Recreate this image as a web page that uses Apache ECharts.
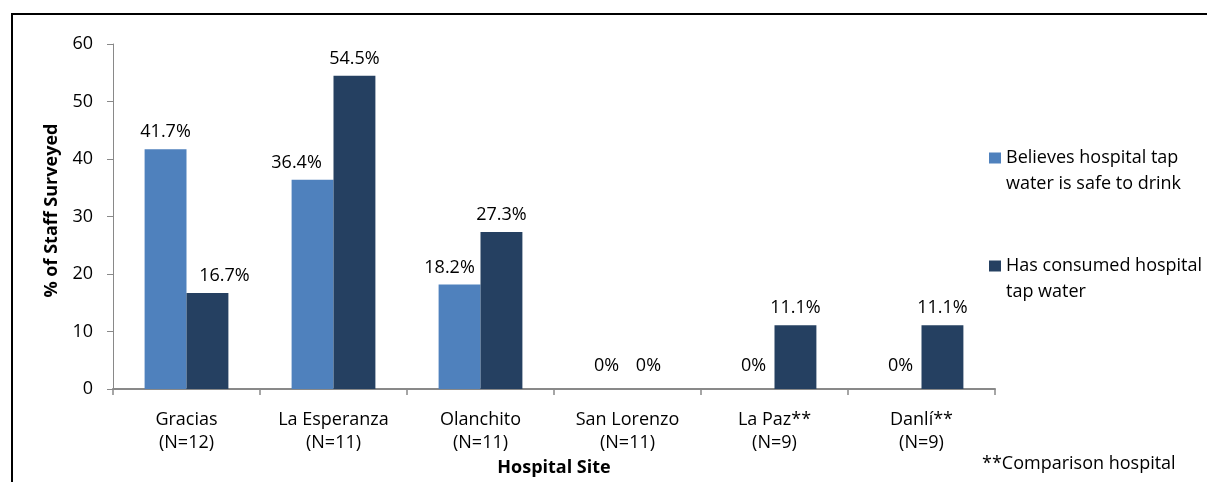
<!DOCTYPE html>
<html>
<head>
<meta charset="utf-8">
<script src="https://cdn.jsdelivr.net/npm/echarts@6/dist/echarts.min.js"></script>
<style>
  html, body { margin: 0; padding: 0; background: #fff; }
  #chart { width: 1207px; height: 482px; }
</style>
</head>
<body>
<div id="chart"></div>
<script>
// Hospital sites (two-line axis labels)
const categories = [
  'Gracias\n(N=12)',
  'La Esperanza\n(N=11)',
  'Olanchito\n(N=11)',
  'San Lorenzo\n(N=11)',
  'La Paz**\n(N=9)',
  'Danlí**\n(N=9)'
];

// Percent of staff surveyed
const believesSafe = [41.7, 36.4, 18.2, 0, 0, 0];
const hasConsumed = [16.7, 54.5, 27.3, 0, 11.1, 11.1];

const seriesNames = [
  'Believes hospital tap water is safe to drink',
  'Has consumed hospital tap water'
];
// leading blank line keeps the legend swatch level with the first text line
const legendLines = {
  'Believes hospital tap water is safe to drink': '\nBelieves hospital tap\nwater is safe to drink',
  'Has consumed hospital tap water': '\nHas consumed hospital\ntap water'
};

const yTicks = { min: 0, max: 60, interval: 10 };

const FONT = '"Open Sans", "Noto Sans", sans-serif';
const LIGHT = '#4F81BD';
const DARK = '#254061';

// labels nudged sideways so they clear the neighbouring taller bar
// key: seriesIndex + ':' + categoryIndex, value: horizontal offset in px
const labelNudge = { '1:0': 17, '0:1': -16, '0:2': -10 };

function withLabels(values, seriesIndex) {
  return values.map((v, i) => {
    const item = { value: v };
    const label = {};
    const dx = labelNudge[seriesIndex + ':' + i];
    if (dx) label.offset = [dx, 0];
    // zero-height bars get their label lifted a bit more off the baseline
    if (v === 0) label.distance = 14;
    if (Object.keys(label).length) item.label = label;
    return item;
  });
}

const barLabel = {
  show: true,
  position: 'top',
  distance: 8,
  color: '#000',
  fontFamily: FONT,
  fontSize: 18,
  formatter: p => p.value + '%'
};

const chart = echarts.init(document.getElementById('chart'), null, { renderer: 'canvas' });

chart.setOption({
  animation: false,
  backgroundColor: '#fff',
  grid: { left: 113, right: 212, top: 44, bottom: 91, containLabel: false },
  legend: {
    orient: 'vertical',
    left: 984,
    top: 114,
    itemWidth: 12,
    itemHeight: 11,
    itemGap: 30,
    icon: 'rect',
    data: seriesNames,
    formatter: name => legendLines[name],
    textStyle: {
      fontFamily: FONT,
      fontSize: 18,
      color: '#000',
      lineHeight: 26
    }
  },
  xAxis: {
    type: 'category',
    data: categories,
    name: 'Hospital Site',
    nameLocation: 'middle',
    nameGap: 68,
    nameTextStyle: { fontFamily: FONT, fontSize: 18, fontWeight: 'bold', color: '#000' },
    axisLine: { lineStyle: { color: '#898989', width: 2 } },
    axisTick: { show: true, length: 6, lineStyle: { color: '#898989', width: 1.5 } },
    axisLabel: {
      fontFamily: FONT, fontSize: 18, color: '#000',
      lineHeight: 23, margin: 19, interval: 0
    }
  },
  yAxis: {
    type: 'value',
    min: yTicks.min,
    max: yTicks.max,
    interval: yTicks.interval,
    name: '% of Staff Surveyed',
    nameLocation: 'middle',
    nameGap: 52,
    nameRotate: 90,
    nameTextStyle: {
      fontFamily: FONT, fontSize: 18, fontWeight: 'bold', color: '#000',
      padding: [0, 0, 0, 12]
    },
    axisLine: { show: true, lineStyle: { color: '#898989', width: 1 } },
    axisTick: { show: true, length: 6, lineStyle: { color: '#898989', width: 1 } },
    splitLine: { show: false },
    axisLabel: { fontFamily: FONT, fontSize: 18, color: '#000', margin: 20 }
  },
  series: [
    {
      name: seriesNames[0],
      type: 'bar',
      data: withLabels(believesSafe, 0),
      itemStyle: { color: LIGHT },
      barGap: '0%',
      barCategoryGap: '43%',
      label: barLabel
    },
    {
      name: seriesNames[1],
      type: 'bar',
      data: withLabels(hasConsumed, 1),
      itemStyle: { color: DARK },
      barGap: '0%',
      barCategoryGap: '43%',
      label: barLabel
    }
  ],
  graphic: [
    {
      type: 'rect',
      shape: { x: 12, y: 14, width: 1400, height: 700 },
      style: { fill: 'none', stroke: '#000', lineWidth: 2 },
      silent: true
    },
    {
      type: 'text',
      left: 982,
      top: 455,
      style: {
        text: '**Comparison hospital',
        fontFamily: FONT,
        fontSize: 18,
        fill: '#000'
      }
    }
  ]
});
</script>
</body>
</html>
